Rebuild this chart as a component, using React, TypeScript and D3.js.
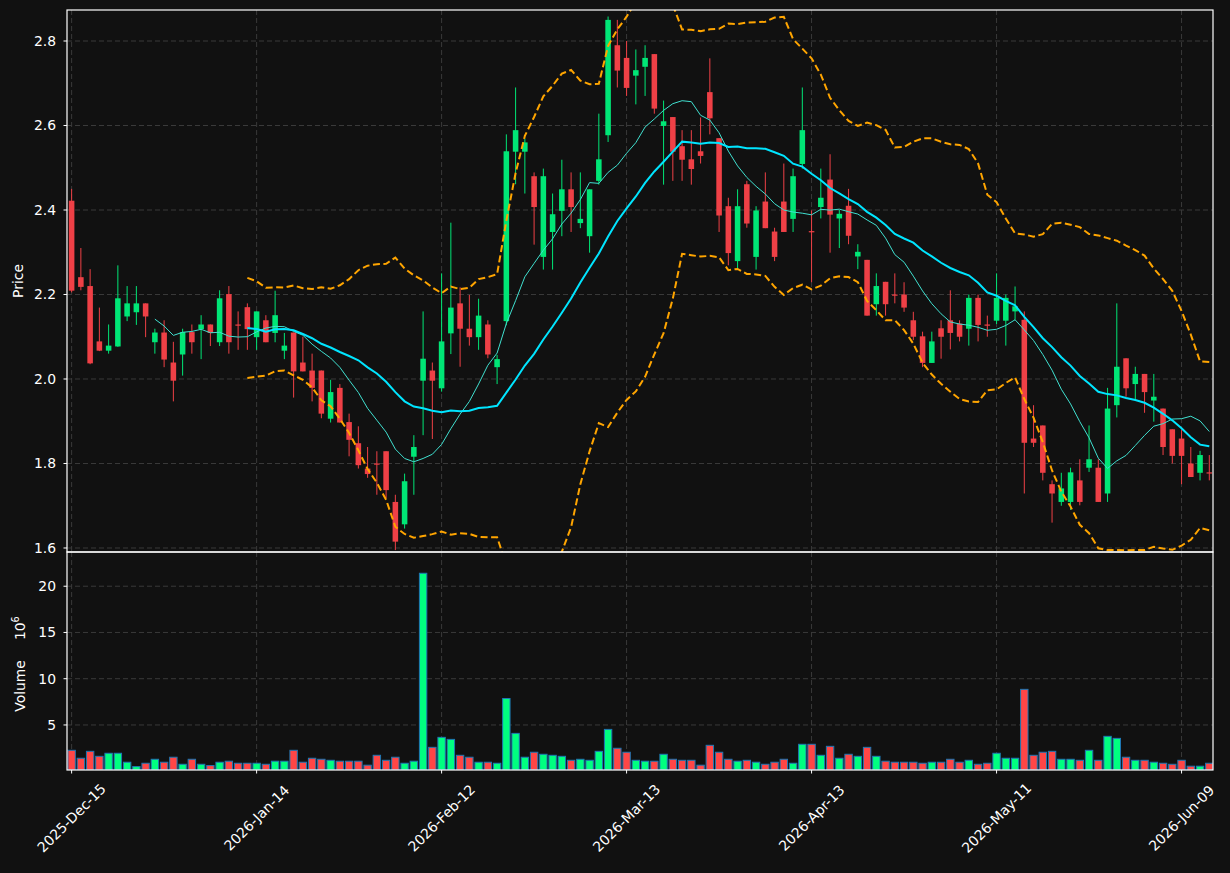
import * as d3 from "d3";

// x tick positions (bar index) and labels
const tickIdx = [0, 20, 40, 60, 80, 100, 120];
const tickLabels = ["2025-Dec-15", "2026-Jan-14", "2026-Feb-12", "2026-Mar-13", "2026-Apr-13", "2026-May-11", "2026-Jun-09"];

const priceTicks = [1.6, 1.8, 2.0, 2.2, 2.4, 2.6, 2.8];
const volTicks = [5, 10, 15, 20];

const opens = [
  2.422, 2.241, 2.22, 2.089, 2.067, 2.077, 2.148, 2.158, 2.179, 2.087,
  2.11, 2.039, 2.058, 2.111, 2.118, 2.129, 2.087, 2.201, 2.129, 2.17,
  2.099, 2.139, 2.109, 2.067, 2.11, 2.039, 2.02, 2.02, 1.906, 1.979,
  1.898, 1.848, 1.788, 1.8, 1.829, 1.709, 1.656, 1.816, 1.996, 2.02,
  1.978, 2.108, 2.179, 2.119, 2.099, 2.129, 2.028, 2.137, 2.538, 2.538,
  2.48, 2.289, 2.348, 2.398, 2.449, 2.369, 2.338, 2.469, 2.577, 2.79,
  2.76, 2.718, 2.739, 2.769, 2.599, 2.62, 2.551, 2.52, 2.539, 2.679,
  2.57, 2.409, 2.279, 2.461, 2.289, 2.42, 2.349, 2.42, 2.379, 2.509,
  2.35, 2.407, 2.472, 2.38, 2.41, 2.29, 2.282, 2.177, 2.23, 2.2,
  2.2, 2.139, 2.101, 2.038, 2.12, 2.139, 2.131, 2.119, 2.192, 2.129,
  2.138, 2.138, 2.16, 2.14, 1.859, 1.89, 1.751, 1.709, 1.709, 1.76,
  1.79, 1.79, 1.729, 1.938, 2.049, 1.988, 2.012, 1.949, 1.93, 1.881,
  1.859, 1.8, 1.778, 1.779,
];
const highs = [
  2.45, 2.31, 2.26, 2.169, 2.129, 2.269, 2.22, 2.22, 2.179, 2.119,
  2.139, 2.088, 2.119, 2.129, 2.151, 2.129, 2.21, 2.22, 2.16, 2.179,
  2.16, 2.151, 2.209, 2.109, 2.11, 2.1, 2.06, 2.02, 1.998, 1.988,
  1.918, 1.888, 1.839, 1.829, 1.829, 1.726, 1.776, 1.867, 2.16, 2.039,
  2.25, 2.37, 2.217, 2.199, 2.19, 2.139, 2.057, 2.579, 2.69, 2.569,
  2.489, 2.498, 2.439, 2.519, 2.489, 2.489, 2.449, 2.628, 2.858, 2.85,
  2.8, 2.78, 2.79, 2.769, 2.659, 2.62, 2.589, 2.589, 2.619, 2.759,
  2.57, 2.429, 2.449, 2.469, 2.409, 2.489, 2.358, 2.51, 2.498, 2.69,
  2.399, 2.498, 2.532, 2.4, 2.45, 2.319, 2.282, 2.25, 2.23, 2.25,
  2.229, 2.159, 2.112, 2.112, 2.139, 2.21, 2.139, 2.2, 2.2, 2.15,
  2.25, 2.2, 2.219, 2.16, 1.938, 1.89, 1.76, 1.778, 1.79, 1.81,
  1.89, 1.81, 1.979, 2.179, 2.049, 2.029, 2.012, 2.012, 1.93, 1.881,
  1.879, 1.839, 1.83, 1.82,
];
const lows = [
  2.205, 2.21, 2.035, 2.066, 2.06, 2.076, 2.137, 2.128, 2.099, 2.06,
  2.028, 1.947, 2.008, 2.06, 2.047, 2.078, 2.078, 2.06, 2.069, 2.069,
  2.069, 2.087, 2.087, 2.047, 1.956, 2.018, 1.947, 1.907, 1.897, 1.897,
  1.817, 1.788, 1.766, 1.726, 1.718, 1.595, 1.646, 1.726, 1.867, 1.858,
  1.97, 2.059, 2.029, 2.079, 2.069, 2.049, 1.988, 2.127, 2.461, 2.439,
  2.318, 2.259, 2.259, 2.338, 2.348, 2.357, 2.299, 2.46, 2.561, 2.69,
  2.67, 2.65, 2.67, 2.628, 2.46, 2.469, 2.469, 2.46, 2.51, 2.579,
  2.348, 2.269, 2.259, 2.358, 2.259, 2.357, 2.279, 2.348, 2.348, 2.498,
  2.229, 2.38, 2.299, 2.31, 2.319, 2.26, 2.15, 2.15, 2.15, 2.179,
  2.159, 2.092, 2.028, 2.038, 2.048, 2.07, 2.089, 2.079, 2.089, 2.1,
  2.13, 2.079, 2.14, 1.729, 1.839, 1.76, 1.66, 1.7, 1.69, 1.701,
  1.78, 1.709, 1.709, 1.909, 1.958, 1.95, 1.92, 1.899, 1.82, 1.8,
  1.751, 1.768, 1.76, 1.76,
];
const closes = [
  2.209, 2.218, 2.037, 2.067, 2.079, 2.191, 2.179, 2.179, 2.148, 2.11,
  2.046, 1.996, 2.111, 2.087, 2.129, 2.109, 2.191, 2.087, 2.127, 2.118,
  2.16, 2.087, 2.151, 2.079, 2.018, 2.018, 1.979, 1.918, 1.969, 1.897,
  1.856, 1.796, 1.775, 1.798, 1.737, 1.615, 1.758, 1.839, 2.048, 1.996,
  2.089, 2.169, 2.119, 2.099, 2.15, 2.058, 2.047, 2.539, 2.589, 2.56,
  2.407, 2.48, 2.39, 2.449, 2.407, 2.379, 2.449, 2.52, 2.85, 2.73,
  2.689, 2.731, 2.76, 2.64, 2.61, 2.538, 2.519, 2.497, 2.528, 2.617,
  2.387, 2.298, 2.409, 2.368, 2.399, 2.357, 2.289, 2.348, 2.48, 2.589,
  2.349, 2.429, 2.389, 2.391, 2.339, 2.301, 2.15, 2.22, 2.177, 2.199,
  2.169, 2.1, 2.038, 2.089, 2.1, 2.109, 2.1, 2.192, 2.128, 2.128,
  2.192, 2.192, 2.172, 1.849, 1.849, 1.778, 1.729, 1.741, 1.779, 1.709,
  1.81, 1.709, 1.93, 2.029, 1.978, 2.012, 1.969, 1.958, 1.839, 1.818,
  1.818, 1.768, 1.82, 1.777,
];
// volume in millions
const volumes = [
  2.26, 1.4, 2.15, 1.61, 1.94, 1.94, 0.97, 0.5, 0.86, 1.29,
  0.97, 1.51, 0.75, 1.29, 0.75, 0.61, 0.97, 1.08, 0.86, 0.86,
  0.86, 0.75, 1.08, 1.08, 2.26, 0.97, 1.4, 1.29, 1.18, 1.08,
  1.08, 1.08, 0.65, 1.72, 1.18, 1.51, 0.86, 1.08, 21.4, 2.58,
  3.66, 3.44, 1.72, 1.51, 0.97, 0.97, 0.86, 7.86, 4.09, 1.51,
  2.05, 1.83, 1.72, 1.61, 1.18, 1.29, 1.18, 2.15, 4.52, 2.48,
  2.05, 1.18, 1.08, 1.08, 1.83, 1.29, 1.18, 1.18, 0.65, 2.8,
  2.05, 1.29, 1.08, 1.18, 0.97, 0.75, 0.97, 1.29, 0.86, 2.91,
  2.91, 1.72, 2.69, 1.4, 1.83, 1.61, 2.58, 1.61, 1.08, 0.97,
  0.97, 0.97, 0.86, 0.97, 0.97, 1.29, 0.97, 1.18, 0.75, 0.86,
  1.94, 1.4, 1.4, 8.85, 1.72, 2.05, 2.15, 1.29, 1.29, 1.18,
  2.26, 1.18, 3.77, 3.55, 1.51, 1.18, 1.18, 0.97, 0.86, 0.75,
  1.18, 0.54, 0.54, 0.86,
];

const W = 1230;
const H = 873;
const L = 67;
const R = 1213;
const pTop = 10;
const pBot = 552;
const vTop = 552;
const vBot = 770;

const BG = "#111111";
const UP = "#00e676";
const DOWN = "#ef4046";
const VUP = "#00ff80";
const VDOWN = "#ff4646";
const GRID = "#3a3a3a";
const FONT = "DejaVu Sans, sans-serif";

// rolling mean / std like pandas rolling (population std for bands)
function rolling(vals: number[], n: number) {
  return vals.map((_, i) => {
    if (i < n - 1) return null;
    const w = vals.slice(i - n + 1, i + 1);
    const m = d3.mean(w) as number;
    const sd = Math.sqrt(d3.mean(w, (v) => (v - m) * (v - m)) as number);
    return { m, sd };
  });
}

const App = () => {
  const x = d3.scaleLinear().domain([-0.5, 123.4]).range([L, R]);
  const y = d3.scaleLinear().domain([1.5905, 2.8734]).range([pBot, pTop]);
  const yv = d3.scaleLinear().domain([0.13, 23.7]).range([vBot, vTop]);

  const step = x(1) - x(0);
  const bodyW = step * 0.6;
  const barW = step * 0.8;

  const r10 = rolling(closes, 10);
  const r20 = rolling(closes, 20);

  const line = d3
    .line<number | null>()
    .defined((d) => d != null)
    .x((_, i) => x(i))
    .y((d) => y(d as number));

  const ma10 = line(r10.map((d) => (d ? d.m : null)));
  const ma20 = line(r20.map((d) => (d ? d.m : null)));
  const upper = line(r20.map((d) => (d ? d.m + 2 * d.sd : null)));
  const lower = line(r20.map((d) => (d ? d.m - 2 * d.sd : null)));

  return (
    <div style={{ position: "absolute", left: 0, top: 0 }}>
      <svg width={W} height={H} style={{ display: "block", background: BG }} fontFamily={FONT}>
        <defs>
          <clipPath id="pclip">
            <rect x={L} y={pTop} width={R - L} height={pBot - pTop} />
          </clipPath>
          <clipPath id="vclip">
            <rect x={L} y={vTop} width={R - L} height={vBot - vTop} />
          </clipPath>
        </defs>
        <rect width={W} height={H} fill={BG} />

        {/* grid */}
        <g stroke={GRID} strokeWidth={1} strokeDasharray="5,3">
          {priceTicks.map((t) => (
            <line key={"pg" + t} x1={L} x2={R} y1={y(t)} y2={y(t)} />
          ))}
          {volTicks.map((t) => (
            <line key={"vg" + t} x1={L} x2={R} y1={yv(t)} y2={yv(t)} />
          ))}
          {tickIdx.map((t) => (
            <g key={"xg" + t}>
              <line x1={x(t)} x2={x(t)} y1={pTop} y2={pBot} />
              <line x1={x(t)} x2={x(t)} y1={vTop} y2={vBot} />
            </g>
          ))}
        </g>

        {/* candles */}
        <g clipPath="url(#pclip)">
          {closes.map((c, i) => {
            const o = opens[i];
            const col = c >= o ? UP : DOWN;
            const top = y(Math.max(o, c));
            const bot = y(Math.min(o, c));
            return (
              <g key={"c" + i}>
                <line x1={x(i)} x2={x(i)} y1={y(highs[i])} y2={y(lows[i])} stroke={col} strokeWidth={1} />
                <rect x={x(i) - bodyW / 2} y={top} width={bodyW} height={Math.max(bot - top, 1.2)} fill={col} />
              </g>
            );
          })}
          <path d={lower ?? ""} fill="none" stroke="#ffa500" strokeWidth={2} strokeDasharray="7,3.5" />
          <path d={upper ?? ""} fill="none" stroke="#ffa500" strokeWidth={2} strokeDasharray="7,3.5" />
          <path d={ma10 ?? ""} fill="none" stroke="#40e0d0" strokeWidth={1} />
          <path d={ma20 ?? ""} fill="none" stroke="#00e5ff" strokeWidth={2} />
        </g>

        {/* volume */}
        <g clipPath="url(#vclip)">
          {volumes.map((v, i) => (
            <rect
              key={"v" + i}
              x={x(i) - barW / 2}
              y={yv(v)}
              width={barW}
              height={vBot - yv(v)}
              fill={closes[i] >= opens[i] ? VUP : VDOWN}
              stroke="#1f77b4"
              strokeWidth={1}
            />
          ))}
        </g>

        {/* spines */}
        <g stroke="#ffffff" strokeWidth={1.2} fill="none">
          <rect x={L} y={pTop} width={R - L} height={pBot - pTop} />
          <rect x={L} y={vTop} width={R - L} height={vBot - vTop} />
        </g>

        {/* y axes */}
        <g fill="#ffffff" fontSize={13.9} textAnchor="end">
          {priceTicks.map((t) => (
            <g key={"pt" + t}>
              <line x1={L - 3.5} x2={L} y1={y(t)} y2={y(t)} stroke="#ffffff" />
              <text x={L - 11} y={y(t)} dy="0.35em">{t.toFixed(1)}</text>
            </g>
          ))}
          {volTicks.map((t) => (
            <g key={"vt" + t}>
              <line x1={L - 3.5} x2={L} y1={yv(t)} y2={yv(t)} stroke="#ffffff" />
              <text x={L - 11} y={yv(t)} dy="0.35em">{t}</text>
            </g>
          ))}
        </g>
        <text
          transform={`translate(23,${(pTop + pBot) / 2}) rotate(-90)`}
          fill="#ffffff"
          fontSize={13.9}
          textAnchor="middle"
        >
          Price
        </text>
        <text
          transform={`translate(25,664) rotate(-90)`}
          fill="#ffffff"
          fontSize={13.9}
          textAnchor="middle"
        >
          Volume<tspan dx={20}>10</tspan>
          <tspan fontSize={9.7} dy={-6}>6</tspan>
        </text>

        {/* x axis */}
        <g fill="#ffffff" fontSize={13.9}>
          {tickIdx.map((t, k) => (
            <g key={"xt" + t}>
              <line x1={x(t)} x2={x(t)} y1={vBot} y2={vBot + 3.5} stroke="#ffffff" />
              <text
                transform={`translate(${x(t)},${818}) rotate(-45)`}
                textAnchor="middle"
                dy="0.35em"
              >
                {tickLabels[k]}
              </text>
            </g>
          ))}
        </g>
      </svg>
    </div>
  );
};

export default App;
